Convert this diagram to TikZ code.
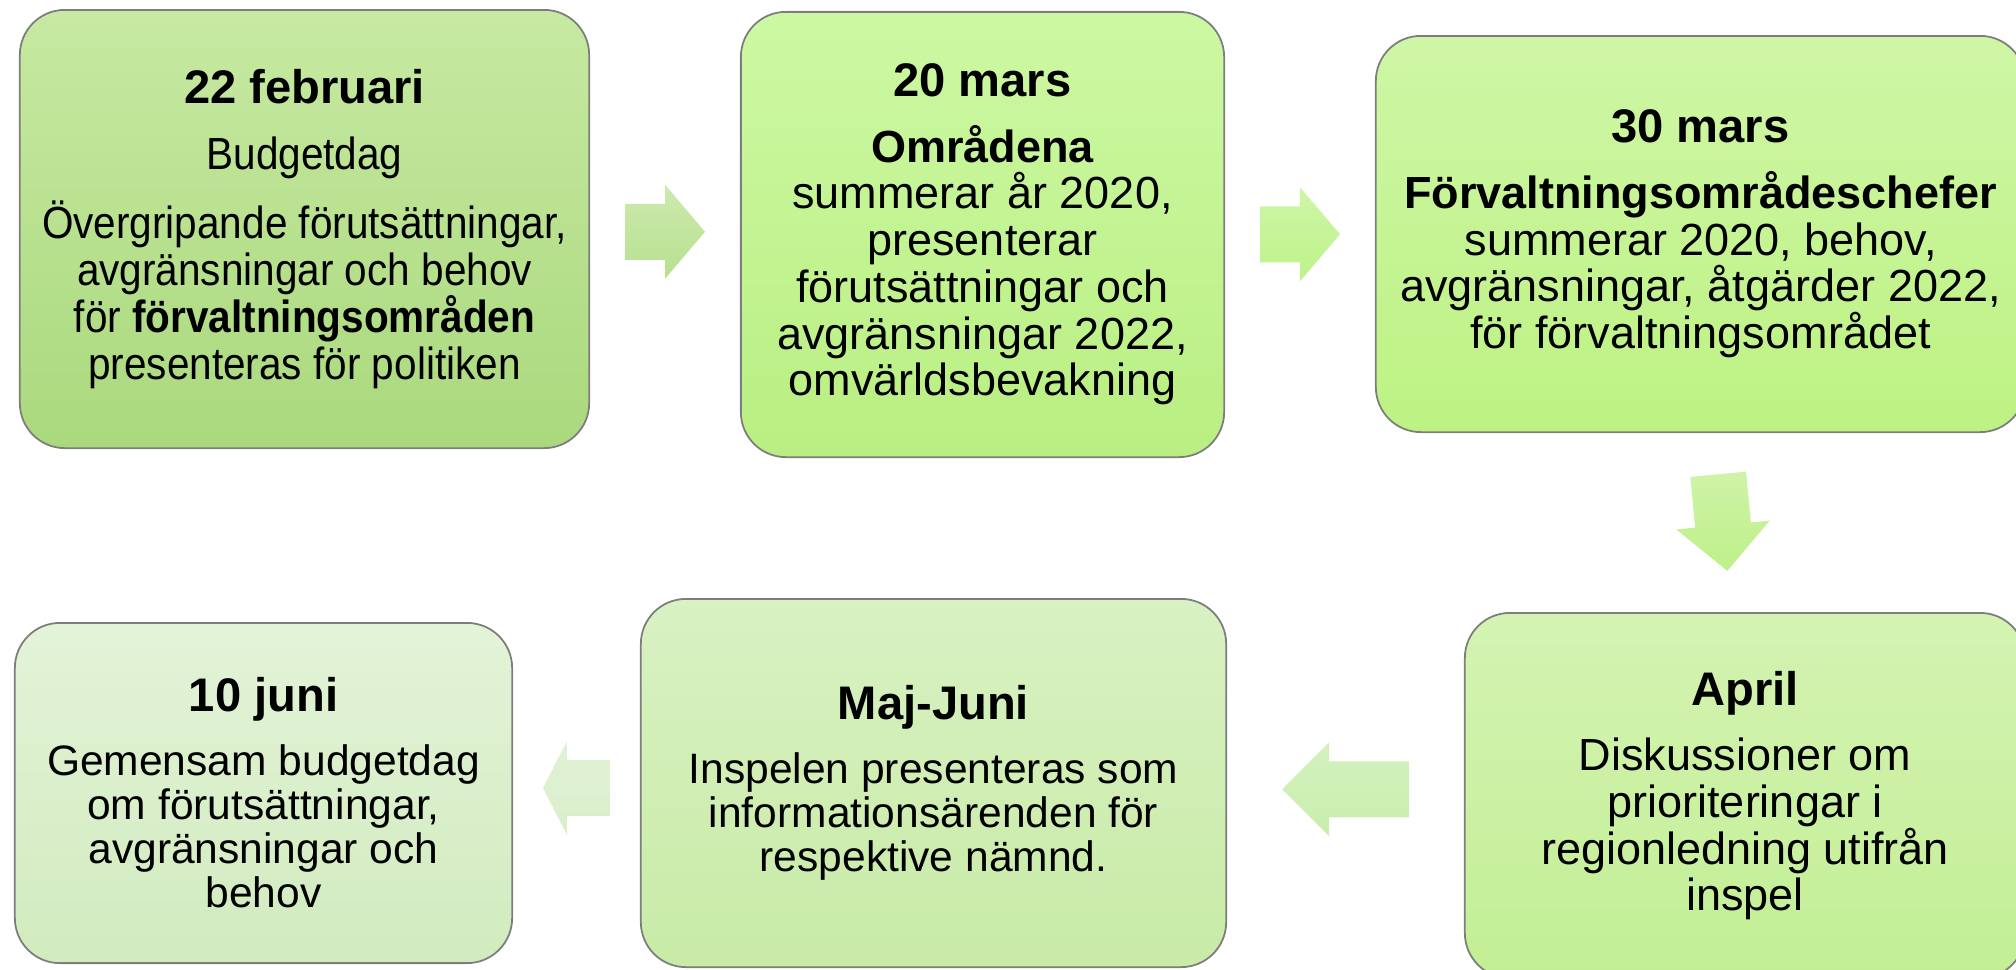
\documentclass[tikz,border=0pt]{standalone}
\usepackage{fontspec}
\setmainfont{Liberation Sans}
\newfontfamily\smal[FakeStretch=0.9]{Liberation Sans}
\usetikzlibrary{calc}
\definecolor{ram}{RGB}{125,125,125}
\definecolor{febA}{HTML}{C7E9A2}\definecolor{febB}{HTML}{AAD97D}
\definecolor{marsA}{HTML}{CDF8A3}\definecolor{marsB}{HTML}{B9EF82}
\definecolor{trettioA}{HTML}{CFF6A6}\definecolor{trettioB}{HTML}{BDF283}
\definecolor{aprA}{HTML}{D4F3B2}\definecolor{aprB}{HTML}{C2EF95}
\definecolor{majA}{HTML}{D9F1C3}\definecolor{majB}{HTML}{C8EBA6}
\definecolor{juniA}{HTML}{E3F3D8}\definecolor{juniB}{HTML}{D1EBBE}
\definecolor{pilEttA}{RGB}{205,234,174}\definecolor{pilEttB}{RGB}{182,224,143}
\definecolor{pilTvaA}{RGB}{206,246,166}\definecolor{pilTvaB}{RGB}{190,242,138}
\definecolor{pilTreA}{RGB}{207,243,168}\definecolor{pilTreB}{RGB}{190,240,137}
\definecolor{pilFyrA}{RGB}{211,241,191}\definecolor{pilFyrB}{RGB}{201,238,173}
\definecolor{pilFemA}{RGB}{224,241,212}\definecolor{pilFemB}{RGB}{218,239,203}
\newcommand\rubrik{\rmfamily\bfseries\fontsize{13.4}{13.3}\selectfont}
\tikzset{
  ruta/.style={draw=ram, line width=0.5pt, rounded corners=0.45cm, align=center, inner sep=0pt, font=\fontsize{12.8}{13.3}\selectfont},
  liten/.style={font=\fontsize{12.1}{12.5}\selectfont},
  pics/pil/.style args={#1/#2/#3/#4}{code={
    \shade[top color=#3, bottom color=#4] ({-#1/2},-28) -- ({#1/2-#2},-28) -- ({#1/2-#2},-47) -- ({#1/2},0) -- ({#1/2-#2},47) -- ({#1/2-#2},28) -- ({-#1/2},28) -- cycle;
  }},
}
\begin{document}
\begin{tikzpicture}[x=0.01cm, y=-0.01cm]
  \useasboundingbox (0,0) rectangle (2016,969); \clip (0,0) rectangle (2016,969);
  \node[ruta, top color=febA, bottom color=febB, minimum width=5.69cm, minimum height=4.38cm, font=\smal\fontsize{12.8}{13.3}\selectfont] (feb) at (304.5,229)
    {{\rubrik 22 februari}\\[5.5pt]Budgetdag\\[5.3pt]Övergripande förutsättningar,\\avgränsningar och behov\\för \textbf{förvaltningsområden}\\presenteras för politiken};
  \node[ruta, top color=marsA, bottom color=marsB, minimum width=4.83cm, minimum height=4.45cm] (mars20) at (982.5,234.5)
    {{\rubrik 20 mars}\\[5.3pt]\textbf{Områdena}\\summerar år 2020,\\presenterar\\förutsättningar och\\avgränsningar 2022,\\omvärldsbevakning};
  \node[ruta, top color=trettioA, bottom color=trettioB, minimum width=6.49cm, minimum height=3.96cm] (mars30) at (1700.5,234)
    {{\rubrik 30 mars}\\[5.3pt]\textbf{Förvaltningsområdeschefer}\\summerar 2020, behov,\\avgränsningar, åtgärder 2022,\\för förvaltningsområdet};
  \node[ruta, top color=aprA, bottom color=aprB, minimum width=5.6cm, minimum height=3.65cm] (april) at (1745,795.5)
    {{\rubrik April}\\[5.3pt]Diskussioner om\\prioriteringar i\\regionledning utifrån\\inspel};
  \node[ruta, liten, top color=majA, bottom color=majB, minimum width=5.85cm, minimum height=3.68cm] (majjuni) at (933.5,783)
    {{\rubrik Maj-Juni}\\[5.7pt]Inspelen presenteras som\\informationsärenden för\\respektive nämnd.};
  \node[ruta, liten, top color=juniA, bottom color=juniB, minimum width=4.97cm, minimum height=3.4cm] (juni) at (263.5,793)
    {{\rubrik 10 juni}\\[5.7pt]Gemensam budgetdag\\om förutsättningar,\\avgränsningar och\\behov};
  \pic at ($(feb.east)!0.5!(mars20.west)$) {pil=80/40/pilEttA/pilEttB};
  \pic at ($(mars20.east)!0.5!(mars30.west)$) {pil=80/40/pilTvaA/pilTvaB};
  \pic[rotate=-84.6] at ($(mars30.south)!0.5!(april.north)$) {pil=97/46/pilTreA/pilTreB};
  \pic[rotate=180] at ($(majjuni.east)!0.5!(april.west)$) {pil=127/47/pilFyrA/pilFyrB};
  \pic[rotate=180] at ($(juni.east)!0.5!(majjuni.west)$) {pil=67/24/pilFemA/pilFemB};
\end{tikzpicture}
\end{document}
